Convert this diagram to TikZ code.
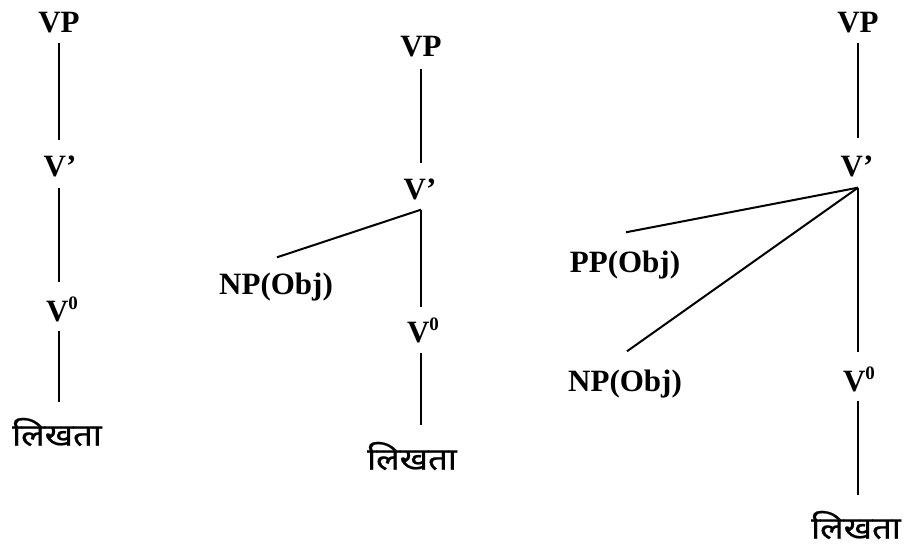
\documentclass[tikz,border=0pt]{standalone}
\usepackage{fontspec}
\setmainfont{Liberation Serif}
\newfontfamily\deva[Script=Devanagari, FakeStretch=1.12, FakeBold=0.6]{Noto Sans}
\usetikzlibrary{calc}
\newcommand\supzero{\raisebox{12pt}{\fontsize{19}{20}\selectfont 0}}
\begin{document}
\begin{tikzpicture}[x=1pt,y=1pt,
  lab/.style={inner sep=0pt, anchor=base, font=\fontsize{31}{36}\selectfont\bfseries},
  hin/.style={inner sep=0pt, font=\fontsize{31}{36}\selectfont\deva},
  branch/.style={line width=2pt}]
\useasboundingbox (0,0) rectangle (906,546);
% tree 1
\node[lab] (t1vp) at (59,513) {VP};
\node[lab] (t1vb) at (60,369) {V’};
\node[lab] (t1v0) at (62,224) {V\supzero};
\node[hin] (t1w) at (57,114) {लिखता};
\draw[branch] ($(t1vp.south)+(0,-9)$) -- ($(t1vp.south |- t1vb.north)+(0,16)$);
\draw[branch] ($(t1vp.south |- t1vb.south)+(0,-10)$) -- ($(t1vp.south |- t1v0.north)+(0,15)$);
\draw[branch] ($(t1vp.south |- t1v0.south)+(0,-8)$) -- ($(t1vp.south |- t1w.center)+(0,30)$);
% tree 2
\node[lab] (t2vp) at (421,489) {VP};
\node[lab] (t2vb) at (420,346) {V’};
\node[lab] (t2np) at (276,251) {NP(Obj)};
\node[lab] (t2v0) at (423,203) {V\supzero};
\node[hin] (t2w) at (412,90) {लिखता};
\coordinate (t2j) at ($(t2vp.south |- t2vb.south)+(0,-9)$);
\draw[branch] ($(t2vp.south)+(0,-11)$) -- ($(t2vp.south |- t2vb.north)+(0,16)$);
\draw[branch] (t2j) -- ($(t2vp.south |- t2v0.north)+(0,11)$);
\draw[branch] (t2j) -- ($(t2np.north)+(1,16)$);
\draw[branch] ($(t2vp.south |- t2v0.south)+(0,-9)$) -- ($(t2vp.south |- t2w.center)+(0,31)$);
% tree 3
\node[lab] (t3vp) at (858,513) {VP};
\node[lab] (t3vb) at (857,369) {V’};
\node[lab] (t3pp) at (625,273) {PP(Obj)};
\node[lab] (t3np) at (625,154) {NP(Obj)};
\node[lab] (t3v0) at (859,154) {V\supzero};
\node[hin] (t3w) at (856,21) {लिखता};
\coordinate (t3j) at ($(t3vp.south |- t3vb.south)+(0,-10)$);
\draw[branch] ($(t3vp.south)+(0,-9)$) -- ($(t3vp.south |- t3vb.north)+(0,18)$);
\draw[branch] (t3j) -- ($(t3vp.south |- t3v0.north)+(0,15)$);
\draw[branch] (t3j) -- ($(t3pp.north)+(1,19)$);
\draw[branch] (t3j) -- ($(t3np.north)+(2,19)$);
\draw[branch] ($(t3vp.south |- t3v0.south)+(0,-8)$) -- ($(t3vp.south |- t3w.center)+(0,30)$);
\end{tikzpicture}
\end{document}
